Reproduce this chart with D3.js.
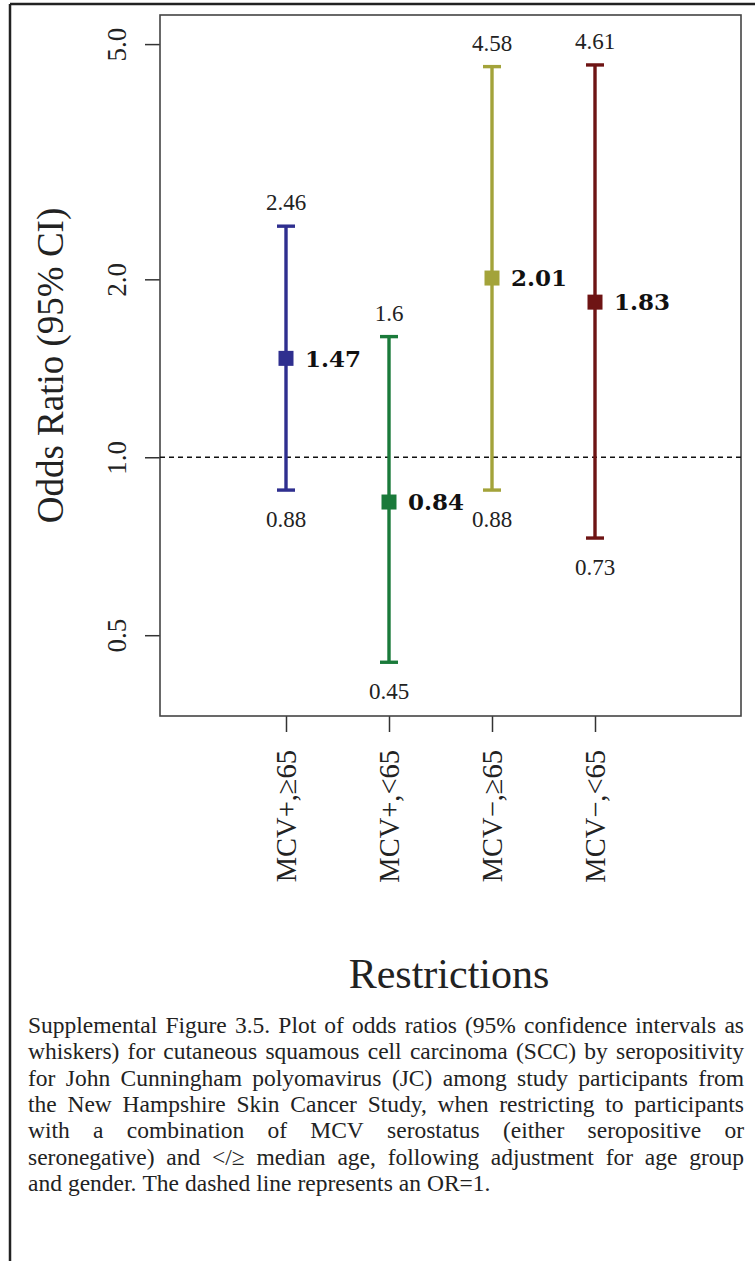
<!DOCTYPE html>
<html>
<head>
<meta charset="utf-8">
<script src="https://cdn.jsdelivr.net/npm/d3@7"></script>
<style>
  body { margin: 0; background: #fff; }
  svg { display: block; }
</style>
</head>
<body>
<div id="chart"></div>
<script>
// data
var categories = ["MCV+,\u226565", "MCV+,<65", "MCV\u2212,\u226565", "MCV\u2212,<65"];
var estimates = [1.47, 0.84, 2.01, 1.83];
var lower = [0.88, 0.45, 0.88, 0.73];
var upper = [2.46, 1.6, 4.58, 4.61];
var colors = ["#2f2f8f", "#1a7a3a", "#a3a33a", "#6e1414"];
var yTicks = [0.5, 1, 2, 5];
var refLine = 1;

var captionLines = [
  "Supplemental Figure 3.5. Plot of odds ratios (95% confidence intervals as",
  "whiskers) for cutaneous squamous cell carcinoma (SCC) by seropositivity",
  "for John Cunningham polyomavirus (JC) among study participants from",
  "the New Hampshire Skin Cancer Study, when restricting to participants",
  "with a combination of MCV serostatus (either seropositive or",
  "seronegative) and </\u2265 median age, following adjustment for age group",
  "and gender. The dashed line represents an OR=1."
];

var W = 755, H = 1261;
var box = {left: 160, top: 15, right: 741, bottom: 716};
var serif = "Liberation Serif, DejaVu Serif, serif";

var svg = d3.select("#chart").append("svg")
  .attr("width", W).attr("height", H);

// outer frame (top and left edges visible)
svg.append("line").attr("x1", 10).attr("x2", W).attr("y1", 4).attr("y2", 4)
  .attr("stroke", "#222").attr("stroke-width", 2.5);
svg.append("line").attr("x1", 10).attr("x2", 10).attr("y1", 4).attr("y2", H)
  .attr("stroke", "#222").attr("stroke-width", 2.5);

var data = categories.map(function(c, i) {
  return {cat: c, est: estimates[i], lo: lower[i], hi: upper[i], color: colors[i]};
});

var y = d3.scaleLog().domain([0.365, 5.6]).range([box.bottom, box.top]);
var x = d3.scalePoint().domain(categories).range([286, 595]);

// y axis
var yAxis = svg.append("g")
  .attr("transform", "translate(" + box.left + ",0)")
  .call(d3.axisLeft(y).tickValues(yTicks).tickFormat(d3.format(".1f")).tickSize(15));
yAxis.attr("font-family", null).attr("font-size", null);
yAxis.select(".domain").remove();
yAxis.selectAll(".tick line").attr("stroke", "#333").attr("stroke-width", 1.5);
yAxis.selectAll(".tick text")
  .attr("transform", "rotate(-90)")
  .attr("x", 0).attr("y", -34).attr("dy", 0)
  .attr("text-anchor", "middle")
  .attr("font-family", serif).attr("font-size", 27).attr("fill", "#222");

// x axis
var xAxis = svg.append("g")
  .attr("transform", "translate(0," + box.bottom + ")")
  .call(d3.axisBottom(x).tickSize(16));
xAxis.attr("font-family", null).attr("font-size", null);
xAxis.select(".domain").remove();
xAxis.selectAll(".tick line").attr("stroke", "#333").attr("stroke-width", 1.5);
xAxis.selectAll(".tick text")
  .attr("transform", "rotate(-90)")
  .attr("x", -34).attr("y", 9).attr("dy", 0)
  .attr("text-anchor", "end")
  .attr("font-family", serif).attr("font-size", 28.5).attr("fill", "#222");

// plot box
svg.append("rect")
  .attr("x", box.left).attr("y", box.top)
  .attr("width", box.right - box.left).attr("height", box.bottom - box.top)
  .attr("fill", "none").attr("stroke", "#444").attr("stroke-width", 1.6);

// reference line
svg.append("line")
  .attr("x1", box.left).attr("x2", box.right)
  .attr("y1", y(refLine)).attr("y2", y(refLine))
  .attr("stroke", "#111").attr("stroke-width", 1.3).attr("stroke-dasharray", "5,4");

// whiskers
var g = svg.selectAll(".ci").data(data).enter().append("g").attr("class", "ci");
g.append("line")
  .attr("x1", function(d) { return x(d.cat); })
  .attr("x2", function(d) { return x(d.cat); })
  .attr("y1", function(d) { return y(d.lo); })
  .attr("y2", function(d) { return y(d.hi); })
  .attr("stroke", function(d) { return d.color; }).attr("stroke-width", 3.4);
["lo", "hi"].forEach(function(k) {
  g.append("line")
    .attr("x1", function(d) { return x(d.cat) - 9; })
    .attr("x2", function(d) { return x(d.cat) + 9; })
    .attr("y1", function(d) { return y(d[k]); })
    .attr("y2", function(d) { return y(d[k]); })
    .attr("stroke", function(d) { return d.color; }).attr("stroke-width", 3.4);
});
g.append("rect")
  .attr("x", function(d) { return x(d.cat) - 7.5; })
  .attr("y", function(d) { return y(d.est) - 7.5; })
  .attr("width", 15).attr("height", 15)
  .attr("fill", function(d) { return d.color; });

// value labels
g.append("text")
  .attr("x", function(d) { return x(d.cat); })
  .attr("y", function(d) { return y(d.hi) - 16; })
  .attr("text-anchor", "middle")
  .attr("font-family", serif).attr("font-size", 23).attr("fill", "#222")
  .text(function(d) { return String(d.hi); });
g.append("text")
  .attr("x", function(d) { return x(d.cat); })
  .attr("y", function(d) { return y(d.lo) + 37; })
  .attr("text-anchor", "middle")
  .attr("font-family", serif).attr("font-size", 23).attr("fill", "#222")
  .text(function(d) { return String(d.lo); });
g.append("text")
  .attr("x", function(d) { return x(d.cat) + 19; })
  .attr("y", function(d) { return y(d.est); })
  .attr("dy", "0.36em")
  .attr("font-family", "DejaVu Serif, serif").attr("font-weight", "bold")
  .attr("font-size", 23).attr("fill", "#111")
  .text(function(d) { return d3.format(".2f")(d.est); });

// axis titles
svg.append("text")
  .attr("transform", "translate(63," + ((box.top + box.bottom) / 2) + ") rotate(-90)")
  .attr("text-anchor", "middle")
  .attr("font-family", serif).attr("font-size", 37).attr("fill", "#222")
  .text("Odds Ratio (95% CI)");
svg.append("text")
  .attr("x", 449).attr("y", 988)
  .attr("text-anchor", "middle")
  .attr("font-family", serif).attr("font-size", 42).attr("fill", "#222")
  .text("Restrictions");

// caption, justified
var capLeft = 28, capRight = 744, capTop = 1033, capStep = 26.3;
var cap = svg.append("g")
  .attr("font-family", serif).attr("font-size", 23.5).attr("fill", "#222");
captionLines.forEach(function(line, li) {
  var words = line.split(" ");
  var t = cap.append("text").attr("y", capTop + li * capStep);
  var spans = words.map(function(w) { return t.append("tspan").text(w); });
  var widths = spans.map(function(s) { return s.node().getComputedTextLength(); });
  var total = d3.sum(widths);
  var gap = (li === captionLines.length - 1) ? 6 : (capRight - capLeft - total) / (words.length - 1);
  var cx = capLeft;
  spans.forEach(function(s, i) {
    s.attr("x", cx);
    cx += widths[i] + gap;
  });
});
</script>
</body>
</html>
